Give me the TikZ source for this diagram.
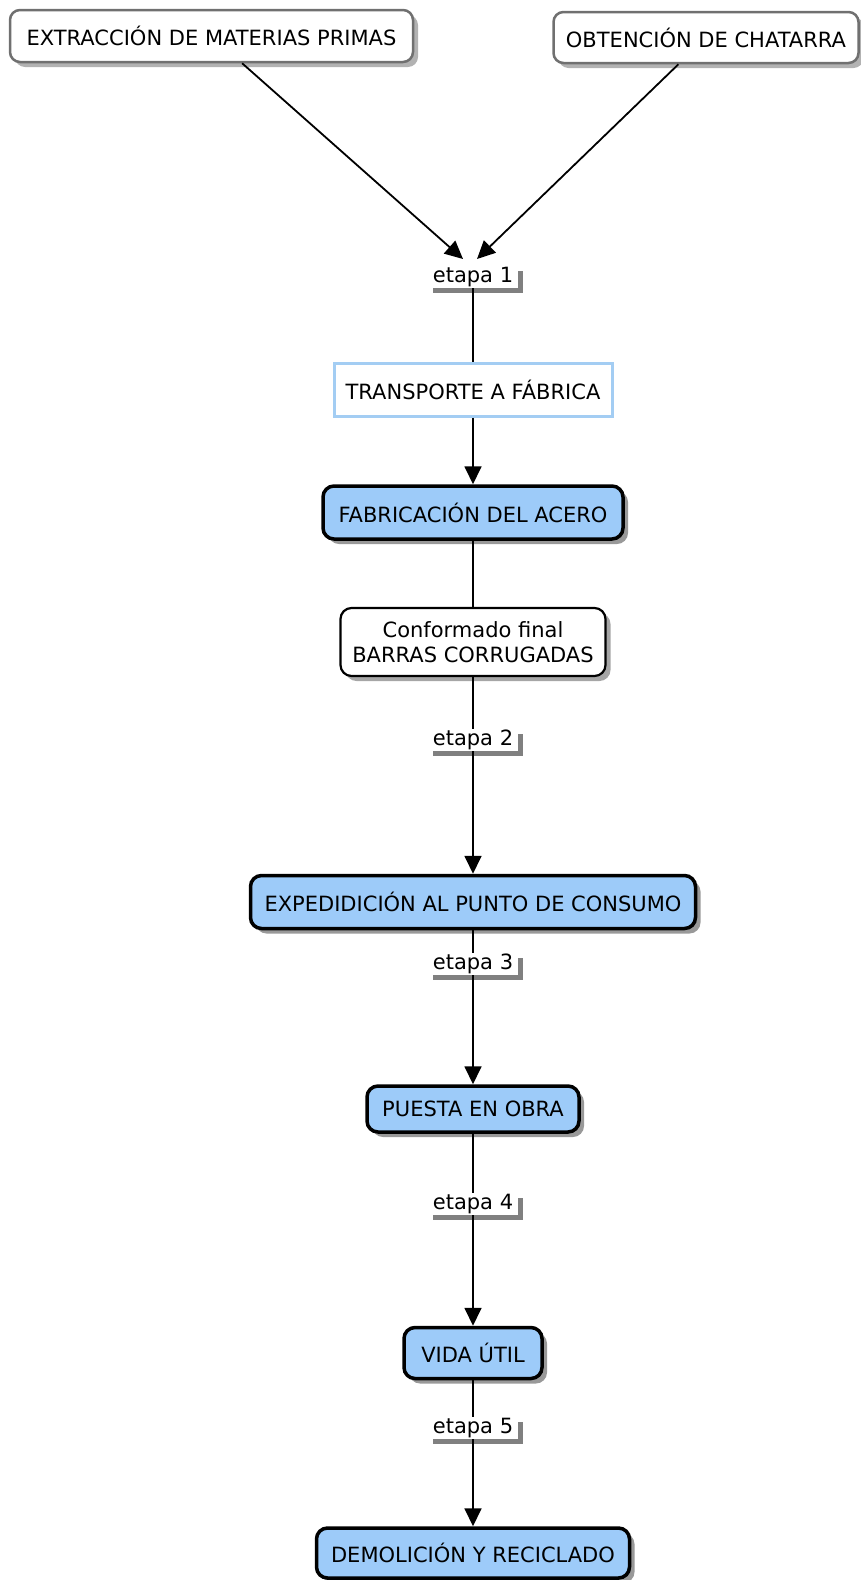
\documentclass[tikz,border=0pt]{standalone}
\usepackage{fontspec}
\setmainfont{DejaVu Sans}
\usetikzlibrary{arrows.meta,shadows}
\definecolor{boxblue}{HTML}{9DCBF9}
\definecolor{edgeblue}{HTML}{A3CDF3}
\definecolor{greyedge}{HTML}{707070}
\tikzset{
  base/.style={font=\fontsize{21}{25.5}\selectfont, inner sep=0pt, align=center},
  topbox/.style={base, draw=greyedge, line width=2.5pt, rounded corners=10pt, fill=white,
    drop shadow={shadow xshift=5pt,shadow yshift=-5pt,fill=black!30,opacity=1}},
  bluebox/.style={base, draw=black, line width=3.5pt, rounded corners=11pt, fill=boxblue,
    drop shadow={shadow xshift=5pt,shadow yshift=-5pt,fill=black!40,opacity=1}},
  whitebox/.style={base, draw=black, line width=2.2pt, rounded corners=11pt, fill=white,
    drop shadow={shadow xshift=5pt,shadow yshift=-5pt,fill=black!35,opacity=1}},
  plainbox/.style={base, draw=edgeblue, line width=3pt, fill=white},
  stagelabel/.style={base, fill=white, minimum width=90pt, minimum height=22pt,
    drop shadow={shadow xshift=5pt,shadow yshift=-5pt,fill=black!50,opacity=1}},
  link/.style={line width=1.8pt, draw=black},
  arrowlink/.style={link, -{Triangle[length=18pt,width=17pt]}}
}
\begin{document}
\begin{tikzpicture}[x=1pt,y=-1pt]
\useasboundingbox (0,0) rectangle (861,1580);
\node[topbox, minimum width=403pt, minimum height=52pt] (ext) at (211.5,36) {EXTRACCIÓN DE MATERIAS PRIMAS};
\node[topbox, minimum width=305pt, minimum height=51pt] (obt) at (706,37.5) {OBTENCIÓN DE CHATARRA};
\node[stagelabel] (e1) at (473,277) {etapa 1};
\coordinate (t1) at (463,259);
\coordinate (t2) at (477,259);
\node[plainbox, minimum width=278pt, minimum height=53pt] (trans) at (473,389.5) {TRANSPORTE A FÁBRICA};
\node[bluebox, minimum width=300pt, minimum height=53pt] (fab) at (473,512.5) {FABRICACIÓN DEL ACERO};
\node[whitebox, minimum width=265pt, minimum height=68pt] (conf) at (473,642) {Conformado final\\BARRAS CORRUGADAS};
\node[stagelabel] (e2) at (473,740) {etapa 2};
\node[bluebox, minimum width=445pt, minimum height=53pt] (exp) at (473,902) {EXPEDIDICIÓN AL PUNTO DE CONSUMO};
\node[stagelabel] (e3) at (473,964) {etapa 3};
\node[bluebox, minimum width=212pt, minimum height=46pt] (pue) at (473,1109) {PUESTA EN OBRA};
\node[stagelabel] (e4) at (473,1204) {etapa 4};
\node[bluebox, minimum width=138pt, minimum height=51pt] (vida) at (473,1353) {VIDA ÚTIL};
\node[stagelabel] (e5) at (473,1428) {etapa 5};
\node[bluebox, minimum width=313pt, minimum height=50pt] (dem) at (473,1553) {DEMOLICIÓN Y RECICLADO};

\draw[arrowlink] (ext) -- (t1);
\draw[arrowlink] (obt) -- (t2);
\draw[link] (e1.south) -- (trans.north);
\draw[arrowlink] (trans.south) -- (fab.north);
\draw[link] (fab.south) -- (conf.north);
\draw[link] (conf.south) -- (e2.north);
\draw[arrowlink] (e2.south) -- (exp.north);
\draw[link] (exp.south) -- (e3.north);
\draw[arrowlink] (e3.south) -- (pue.north);
\draw[link] (pue.south) -- (e4.north);
\draw[arrowlink] (e4.south) -- (vida.north);
\draw[link] (vida.south) -- (e5.north);
\draw[arrowlink] (e5.south) -- (dem.north);
\end{tikzpicture}
\end{document}
